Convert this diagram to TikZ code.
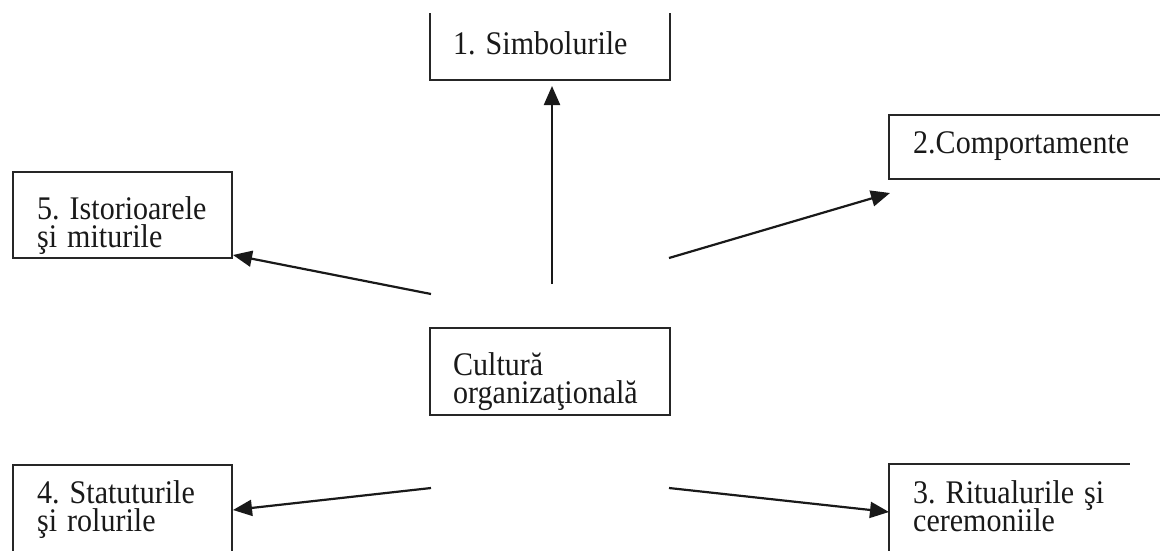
\documentclass[tikz,border=0pt]{standalone}
\usepackage{fontspec}
\setmainfont{Liberation Serif}
\usetikzlibrary{arrows.meta}
\newcommand{\sqz}[1]{\scalebox{0.91}[1]{#1}}
\begin{document}
\begin{tikzpicture}[x=1pt,y=-1pt,
  boxline/.style={draw=black!85, line width=1.6pt},
  area/.style={inner sep=0pt, outer sep=0pt, rectangle},
  lbl/.style={anchor=base west, inner sep=0pt, text width=230pt, align=left,
    font={\fontsize{33}{28}\selectfont\frenchspacing\lineskiplimit=-100pt\relax}, text=black!90},
  arr/.style={line width=2.2pt, draw=black!90, -{Triangle[length=19pt,width=16pt]}}]
\useasboundingbox (0,0) rectangle (1160,550);
\clip (0,0) rectangle (1160,550);
% boxes
\node[area, minimum width=240pt, minimum height=67pt] (b1) at (550,46.5) {};
\node[area, boxline, minimum width=291pt, minimum height=64pt] (b2) at (1034.5,147) {};
\node[area, boxline, minimum width=219pt, minimum height=86pt] (b5) at (122.5,215) {};
\node[area, boxline, minimum width=240pt, minimum height=87pt] (c) at (550,371.5) {};
\node[area, boxline, minimum width=219pt, minimum height=115pt] (b4) at (122.5,522.5) {};
\node[area, minimum width=241pt, minimum height=116pt] (b3) at (1009.5,522) {};
\draw[boxline] (b1.north west) -- (b1.south west) -- (b1.south east) -- (b1.north east);
\draw[boxline] (b3.south west) -- (b3.north west) -- (b3.north east);
% texts
\node[lbl] (t1) at (453,54) {\sqz{1. Simbolurile}};
\node[lbl] (t2) at (913,153) {\sqz{2.Comportamente}};
\node[lbl] (t5) at (37,219) {\sqz{5. Istorioarele}\\\sqz{şi miturile}};
\node[lbl] (tc) at (453,375) {\sqz{Cultură}\\\sqz{organizaţională}};
\node[lbl] (t4) at (37,503) {\sqz{4. Statuturile}\\\sqz{şi rolurile}};
\node[lbl] (t3) at (913,503) {\sqz{3. Ritualurile şi}\\\sqz{ceremoniile}};
% arrow starts
\coordinate (s1) at (552,284);
\coordinate (s2) at (669,258);
\coordinate (s5) at (431,294);
\coordinate (s4) at (431,488);
\coordinate (s3) at (669,488);
% arrows
\draw[arr] (s1) -- ([yshift=-6pt]b1.south -| s1);
\draw[arr] (s2) -- ([yshift=-14pt,xshift=1pt]b2.south west);
\draw[arr] (s5) -- ([yshift=3pt,xshift=1pt]b5.south east);
\draw[arr] (s4) -- ([yshift=-45pt,xshift=1pt]b4.north east);
\draw[arr] (s3) -- ([yshift=-48pt]b3.north west);
\end{tikzpicture}
\end{document}
